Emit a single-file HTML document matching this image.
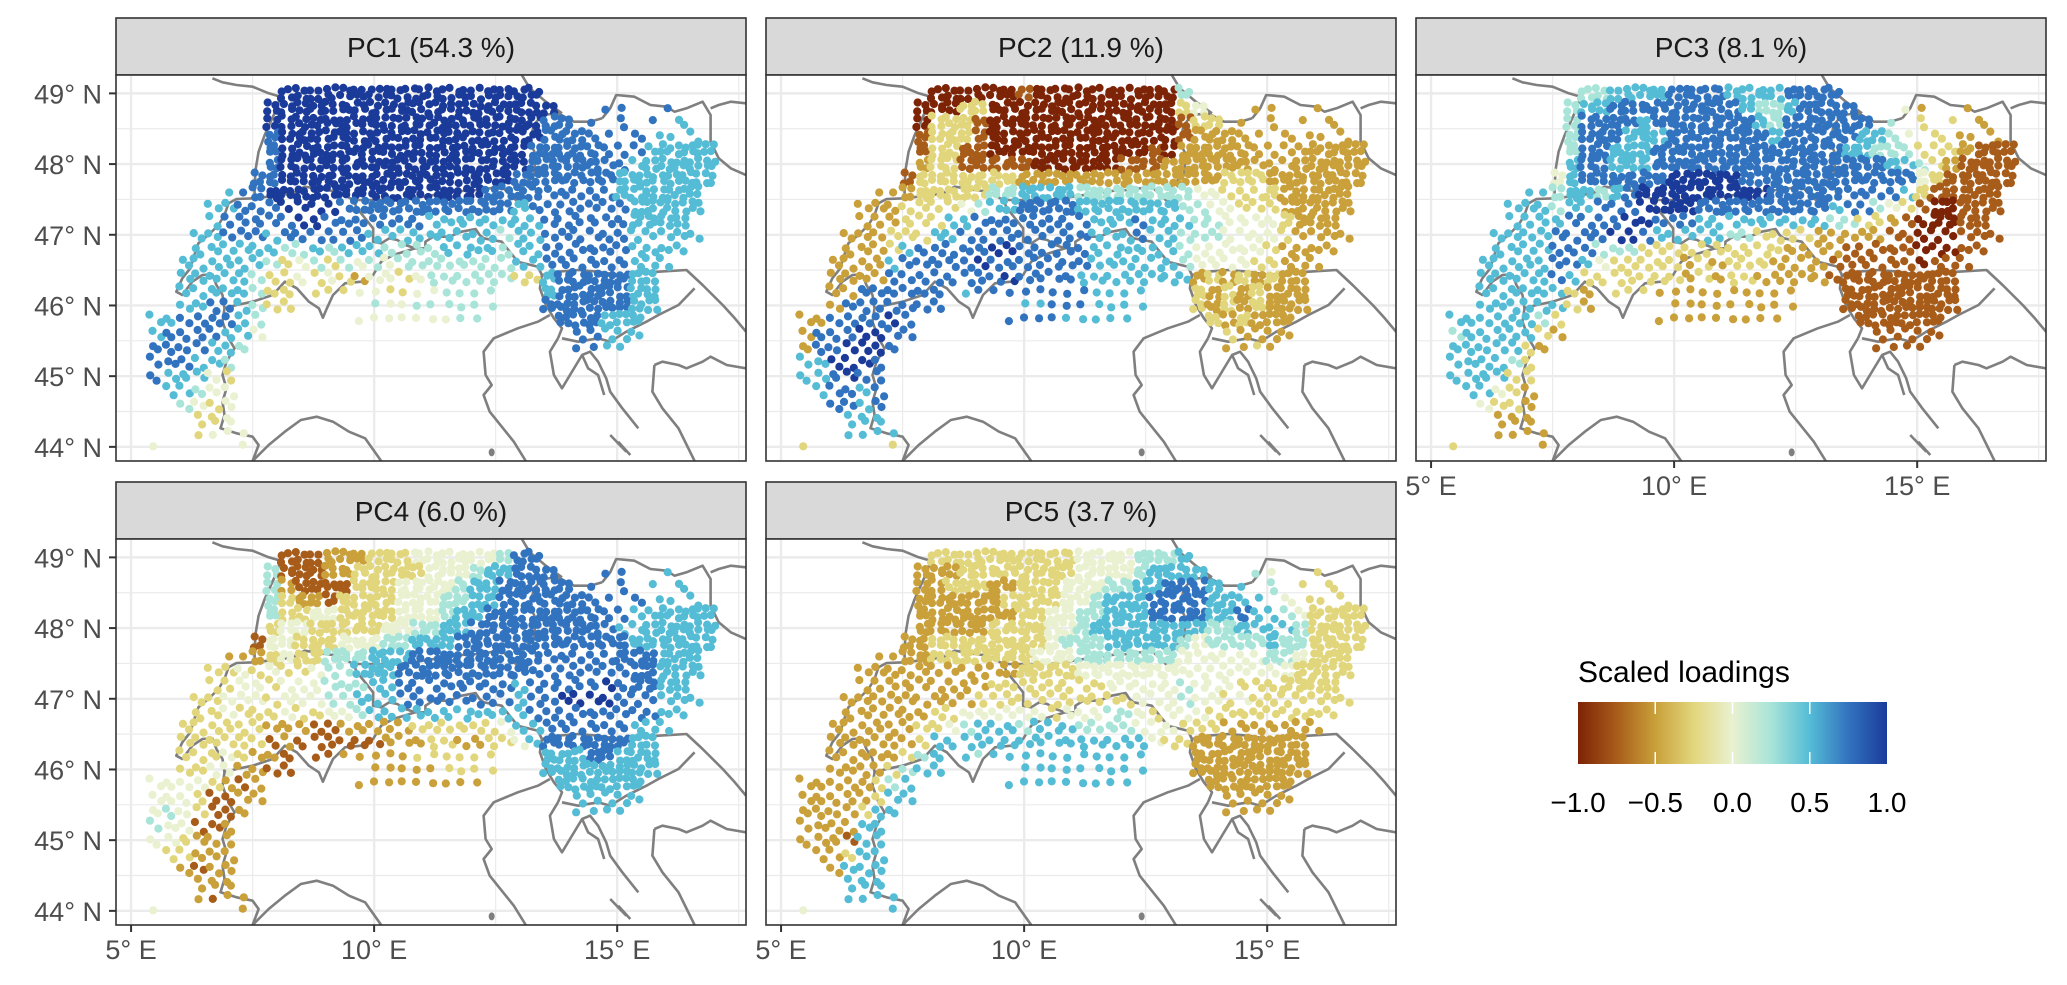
<!DOCTYPE html>
<html><head><meta charset="utf-8">
<style>
html,body{margin:0;padding:0;background:#fff;}
svg{display:block;font-family:"Liberation Sans",Arial,sans-serif;}
</style></head>
<body>
<svg id="chart" width="2067" height="985" viewBox="0 0 2067 985" xmlns="http://www.w3.org/2000/svg">
<defs>
<linearGradient id="cgrad" x1="0" x2="1" y1="0" y2="0">
<stop offset="0" stop-color="#7d2306"/><stop offset="0.125" stop-color="#a85c1a"/><stop offset="0.25" stop-color="#c9a03a"/><stop offset="0.375" stop-color="#e2d67c"/><stop offset="0.5" stop-color="#e9f1d0"/><stop offset="0.625" stop-color="#a8e4d8"/><stop offset="0.75" stop-color="#55bcd6"/><stop offset="0.875" stop-color="#3273bf"/><stop offset="1" stop-color="#1b3b9b"/>
</linearGradient>
<clipPath id="pclip"><rect x="0" y="0" width="630" height="386"/></clipPath>
</defs>
<g id="panels"></g>
<g id="legend">
<text x="1578" y="682" font-size="30" fill="#000">Scaled loadings</text>
<rect x="1578" y="702" width="309" height="62" fill="url(#cgrad)"/>
</g>
</svg>
<script>
// ---- data ----
const panelTitles = ["PC1 (54.3 %)","PC2 (11.9 %)","PC3 (8.1 %)","PC4 (6.0 %)","PC5 (3.7 %)"];
const lonTicks = [5,10,15];
const lonTickLabels = ["5° E","10° E","15° E"];
const latTicks = [44,45,46,47,48,49];
const latTickLabels = ["44° N","45° N","46° N","47° N","48° N","49° N"];
const legendValues = [-1,-0.5,0,0.5,1];
const legendLabels = ["\u22121.0","\u22120.5","0.0","0.5","1.0"];
// station grid: lon = 5.5 + 0.3*i, lat = 49.0 - 0.2*row
const gridLon0 = 5.5, gridLonStep = 0.3, gridLat0 = 49.0, gridLatStep = 0.2;
const stationMask = [
 [[9,26,'#']],
 [[8,27,'#'],[31,32,'.'],[35,35,'.']],
 [[8,28,'#'],[30,30,'.'],[32,32,':'],[34,34,'.'],[36,36,':']],
 [[8,29,'#'],[30,30,':'],[31,31,'.'],[33,33,':'],[35,35,':'],[37,37,':']],
 [[8,30,'#'],[31,34,':'],[35,38,'#']],
 [[8,30,'#'],[31,33,':'],[34,38,'#']],
 [[7,38,'#']],
 [[5,6,'.'],[7,26,'#'],[27,31,':'],[32,37,'#']],
 [[4,13,':'],[14,25,'#'],[26,32,':'],[33,37,'#']],
 [[4,32,':'],[33,36,'#']],
 [[3,37,':']],
 [[3,36,':']],
 [[2,35,':']],
 [[2,26,':'],[27,34,'#']],
 [[2,9,':'],[11,23,'.'],[27,34,'#']],
 [[2,9,':'],[15,23,'.'],[27,34,'#']],
 [[0,7,':'],[14,22,'.'],[28,33,'#']],
 [[0,7,':'],[29,33,':']],
 [[0,6,':'],[29,32,'.']],
 [[0,5,':']],
 [[0,5,':']],
 [[1,5,':']],
 [[2,5,':']],
 [[3,5,':']],
 [[3,6,'.']],
 [[0,0,'.'],[6,6,'.']]
];
// loadings: digit d -> (d-4)/4
const pc1 = [
"66666 66788 88888 88888 88888 88877 77777 76666","66666 66688 88888 88888 88888 88877 77777 76666",
"66666 66688 88888 88888 88888 88777 77777 66666","66666 66678 88888 88888 88888 88777 77777 66666",
"66666 66678 88888 88888 88888 87777 77776 66666","66666 66678 88888 88888 88888 87777 77766 66666",
"66666 66778 88888 88888 88888 77777 77666 66666","66666 67788 88888 88888 88877 77777 77666 66666",
"66666 67778 88877 77777 77777 67777 77766 66666","66666 77777 88777 77776 66666 66777 77766 66666",
"66666 77767 77777 66666 66665 66777 77766 66666","66666 66665 56566 65555 66665 66777 77766 66666",
"66666 66653 45354 54555 55555 66777 77766 66666","66666 66533 43432 44345 55555 33677 77766 66666",
"66666 66533 43334 43344 55555 33677 77766 66666","66667 76533 34444 54455 55555 53777 77766 66666",
"66777 76544 44444 44444 45555 55777 76666 66666","67777 66444 44444 44444 44444 44777 76666 66666",
"77776 65444 44444 44444 44444 44667 76666 66666","77766 54444","76664 34444","66654 44444",
"56543 44444","55433 44444","44334 44444","44444 44444"];
const pc2 = [
"11111 11000 00000 10000 00000 05511 11222 22222","11111 11100 03300 00000 00000 03412 22222 22222",
"11111 11103 33100 00000 00000 01331 22222 22222","11111 11113 33100 00000 00000 01222 22222 22222",
"11111 11113 31100 00000 00001 02222 22222 22222","11111 11123 31111 10000 00111 22222 22222 22222",
"11111 11133 33333 22222 22222 22223 33222 22222","22222 22233 33355 66665 55555 55443 33322 22222",
"22222 22333 34566 77776 66666 65544 33322 22222","22222 22333 66777 77777 66676 66554 44432 22222",
"22222 23336 67777 77777 66676 65554 44432 22222","22222 23677 77788 77777 66666 65444 44322 22222",
"22222 26777 77877 77777 66666 65444 43322 22222","22222 27777 77778 77776 66666 66232 32322 22222",
"22227 77777 36777 77777 66666 62323 23222 22222","22277 77777 77777 66777 66666 32323 23222 22222",
"22777 78777 77777 77766 66666 23232 32222 22222","27778 87777 77777 77777 66666 32323 22222 22222",
"27788 87777 77777 77777 66666 33232 23222 22222","66888 77777","66787 77777","46776 77777",
"66776 77777","66666 66666","66666 66666","33333 33333"];
const pc3 = [
"66666 66355 56666 77776 66677 77777 74444 44444","66666 66356 67777 77777 65567 77777 54232 22222",
"66666 66357 77767 77777 76577 77777 53333 32222","66666 66357 77666 77777 77677 77766 54333 22222",
"66666 66457 76667 77777 77777 77665 55333 21111","66666 66467 76667 77777 77777 77777 66532 11111",
"66666 66467 77777 88888 77777 77777 77431 11111","66666 66566 56788 88888 88777 77777 76311 11111",
"66666 66566 77788 88777 77777 76775 43100 11111","66666 66677 77887 77666 66666 65533 21000 11111",
"66666 66777 78876 66665 53333 22222 11000 11111","66666 66777 55533 33333 33322 22111 11000 11111",
"66666 66776 43333 32323 33222 21111 11011 11111","66666 66763 33333 32323 32222 21111 11111 11111",
"66666 66632 33332 22222 22222 21111 11111 11111","66666 66632 22222 22222 22222 21111 11111 11111",
"66666 65322 22222 22222 22222 21111 11111 11111","56666 63222 22222 22222 22222 22111 11111 11111",
"66666 32222 22222 22222 22222 32211 11111 11111","66665 32222","66663 32222","66643 22222",
"45433 22222","44322 22222","33322 22222","33333 22222"];
const pc4 = [
"22222 22111 11222 33344 44445 77777 77766 66666","22222 22151 11223 33334 44566 77777 77766 66666",
"22222 22152 11113 33444 45667 77777 77766 66666","22222 22153 22133 33444 55667 77777 77776 66666",
"22222 22153 34433 33444 56677 77777 77766 66666","22222 22134 43333 34455 66777 77777 77666 66666",
"22222 22144 33344 45566 67777 77777 77766 66666","22222 22234 33555 66677 77777 77777 77777 66666",
"33333 34343 34556 66777 77777 77777 77777 66666","33333 34434 44555 66777 77777 67777 78777 66666",
"33333 44434 44556 66777 77777 67788 88777 66666","33333 43334 33445 66666 66666 67777 77777 66666",
"33333 33322 21122 22233 33334 66777 77766 66666","33333 33312 11111 12223 32233 46777 77766 66666",
"33333 43221 11122 22233 33334 56666 77666 66666","33334 42211 11112 22222 33333 66666 66666 66666",
"44443 21222 22222 22222 22222 56666 66666 66666","44431 12222 22222 22222 22222 56666 66666 66666",
"45431 12222 22222 22222 22222 56666 66666 66666","54411 22222","44322 22222","43322 22222",
"43212 22222","33222 22222","32221 22222","44444 22222"];
const pc5 = [
"22222 22223 33333 33334 44455 56633 33333 33333","22222 22222 23333 33334 44456 66666 55433 33333",
"22222 22222 33322 33344 45566 77766 66533 33333","22222 22222 22223 33344 56667 77766 66543 33333",
"22222 22222 22222 33445 56667 77766 76654 33333","22222 22222 22233 33445 66666 66655 66665 33333",
"22222 22223 33333 33455 56666 65455 55655 33333","22222 22223 33333 34445 55555 54444 44554 33333",
"22222 22222 22222 33334 44444 44444 44443 33333","22222 22222 22233 33333 34444 45444 33333 33333",
"22222 22222 22333 33333 33344 45443 43333 33333","22222 22223 34444 44344 45543 44433 33333 33333",
"22222 22233 45666 56665 55544 43332 22222 22222","22222 22236 66666 66666 66664 33222 22222 22222",
"22222 22356 66566 66666 66666 32222 22222 22222","22222 23566 66666 66666 66666 22222 22222 22222",
"22222 35666 66666 66666 66666 22222 22222 22222","22222 36666 66666 66666 66666 22222 22222 22222",
"22223 66666 66666 66666 66666 22222 22222 22222","22226 66666","22216 66666","22236 66666",
"23266 66666","22666 66666","22666 66666","44444 66666"];
const loadings = [pc1,pc2,pc3,pc4,pc5];

// ---- geometry ----
const NS = "http://www.w3.org/2000/svg";
const PW = 630, PH = 386;
const panelPos = [[116,75],[766,75],[1416,75],[116,539],[766,539]];
const lonL = 4.69, lonR = 17.65, latT = 49.26, latB = 43.80;
function xScale(lon){ return (lon-lonL)/(lonR-lonL)*PW; }
function yScale(lat){ return (latT-lat)/(latT-latB)*PH; }
const cStops=[-1,-0.75,-0.5,-0.25,0,0.25,0.5,0.75,1];
const cCols=[[125,35,6],[168,92,26],[201,160,58],[226,214,124],[233,241,208],[168,228,216],[85,188,214],[50,115,191],[27,59,155]];
function colorScale(v){
  v=Math.max(-1,Math.min(1,v));
  let k=0; while(k<cStops.length-2 && v>cStops[k+1]) k++;
  const t=(v-cStops[k])/(cStops[k+1]-cStops[k]);
  const a=cCols[k], b=cCols[k+1];
  return 'rgb('+a.map((x,j)=>Math.round(x+(b[j]-x)*t)).join(',')+')';
}
function hash(a,b,c){ let h=(a*73856093)^(b*19349663)^(c*83492791); h=(h^(h>>>13))*1274126177; h=h^(h>>>16); return ((h>>>0)%1000)/1000; }
// outline coordinates (reference-frame units 1568x1158 over panel)
const outlines = [
[[240,10],[265,22],[300,30],[340,35],[380,55],[410,65],[400,100],[385,140],[370,180],[355,230],[348,280],[345,330],[345,370],[300,372],[280,385],[270,420],[255,450],[230,480],[205,505],[195,540],[185,580],[165,610],[150,650],[165,660],[190,620],[215,600],[240,598],[250,630],[265,660],[270,700],[265,740],[280,790],[295,820],[275,860],[265,900],[275,940],[265,980],[270,1020],[260,1060],[300,1075],[340,1085],[355,1110],[340,1158]],
[[345,370],[400,362],[440,355],[470,335],[520,345],[555,350],[590,375],[600,400],[620,430],[640,460],[640,500],[660,505],[680,490],[700,495],[720,510],[745,520],[770,520],[770,500],[790,485],[830,485],[860,470],[895,462],[905,480],[915,490],[960,500],[1000,560],[1050,575],[1060,600],[1055,640],[1070,690],[1090,730],[1110,760],[1100,790]],
[[270,700],[300,690],[340,680],[390,660],[420,620],[450,640],[480,680],[505,700],[515,728],[525,700],[540,660],[570,625],[610,620],[640,600],[660,560],[690,540],[745,520]],
[[590,375],[640,375],[700,375],[740,370],[780,362],[820,355],[860,348],[900,345],[960,335],[990,370],[1000,380],[1010,330],[1040,300],[1045,240],[1030,200],[1040,150],[1060,120],[1100,115],[1140,140],[1180,140],[1210,130]],
[[1010,0],[1030,40],[1070,80],[1110,115]],
[[1210,130],[1230,100],[1245,60],[1290,65],[1330,90],[1370,95],[1390,110],[1420,100],[1460,80],[1480,120],[1480,200],[1500,250],[1530,280],[1568,300]],
[[1480,100],[1500,90],[1530,80],[1568,85]],
[[1060,600],[1100,590],[1150,585],[1200,590],[1250,600],[1300,595],[1350,590],[1420,585],[1460,630],[1510,690],[1540,730],[1568,770]],
[[1110,790],[1150,800],[1200,790],[1230,800],[1270,770],[1320,740],[1350,720],[1400,690],[1440,640]],
[[1080,720],[1050,740],[1000,760],[940,790],[915,830],[920,900],[935,930],[915,960],[930,1010],[990,1100],[1020,1158]],
[[1100,790],[1080,830],[1090,900],[1110,940],[1130,900],[1160,840],[1180,830],[1200,860],[1220,910],[1230,950],[1260,1000],[1300,1060]],
[[1160,840],[1175,880],[1200,900],[1215,960]],
[[1340,870],[1360,860],[1400,870],[1420,880],[1460,860],[1480,845],[1520,870],[1568,880]],
[[1340,870],[1335,950],[1360,1000],[1400,1060],[1440,1158]],
[[340,1158],[380,1110],[420,1070],[460,1035],[500,1025],[540,1040],[580,1070],[620,1090],[660,1158]],
[[1230,1080],[1270,1130]],[[1250,1100],[1280,1140]]
];

function mk(tag, attrs, parent){
  const e=document.createElementNS(NS,tag);
  for(const k in attrs) e.setAttribute(k,attrs[k]);
  parent.appendChild(e); return e;
}
const root=document.getElementById('panels');

panelTitles.forEach((title,p)=>{
  const [px,py]=panelPos[p];
  const g=mk('g',{transform:'translate('+px+','+py+')'},root);
  
  
  const strip=mk('rect',{x:0,y:-57,width:PW,height:57,fill:'#d9d9d9',stroke:'#333',"stroke-width":1.6},g);
  
  
  const st=mk('text',{x:PW/2,y:-18,"text-anchor":'middle',"font-size":28,fill:'#1a1a1a'},g);
  st.textContent=title;
  
  
  mk('rect',{x:0,y:0,width:PW,height:PH,fill:'#fff'},g);
  const inner=mk('g',{"clip-path":'url(#pclip)'},g);
  [5,7.5,10,12.5,15,17.5].forEach(l=>{
    const gl=mk('line',{x1:xScale(l),x2:xScale(l),y1:0,y2:PH,stroke:'#ebebeb',"stroke-width":(l%5===0)?2.4:1.2},inner);
    
    
  });
  for(let l=44;l<=49.01;l+=0.5){
    const gl=mk('line',{x1:0,x2:PW,y1:yScale(l),y2:yScale(l),stroke:'#ebebeb',"stroke-width":(l%1===0)?2.4:1.2},inner);
    
    
  }
  const sx=PW/1568, sy=PH/1158;
  outlines.forEach(o=>{
    const pl=mk('polyline',{points:o.map(q=>(q[0]*sx).toFixed(1)+','+(q[1]*sy).toFixed(1)).join(' '),fill:'none',stroke:'#7f7f7f',"stroke-width":2.6,"stroke-linejoin":'round'},inner);
    
    
  });
  const cor=mk('ellipse',{cx:935*sx,cy:1132*sy,rx:3,ry:4,fill:'#7f7f7f'},inner);
  
  
  const vals=loadings[p];
  const dots=mk('g',{},inner);
  
  
  const cw=Math.abs(xScale(gridLon0+gridLonStep)-xScale(gridLon0));
  const chh=Math.abs(yScale(gridLat0)-yScale(gridLat0-gridLatStep));
  stationMask.forEach((segs,r)=>{
    const rowStr=(vals[r]||'').replace(/ /g,'');
    segs.forEach(([a,b,d])=>{
      for(let i=a;i<=b;i++){
        const ch=rowStr[i]!==undefined?rowStr[i]:'4';
        const v=(parseInt(ch,10)-4)/4;
        const cx=xScale(gridLon0+gridLonStep*i), cy=yScale(gridLat0-gridLatStep*r);
        let offs;
        if(d==='#') offs=[[-.25,-.25],[.25,-.25],[-.25,.25],[.25,.25]];
        else if(d===':') offs=[[-.25,-.2],[.25,.25]];
        else offs=[[0,0]];
        offs.forEach((o,k)=>{
          const jx=(hash(r,i,k)-0.5)*5, jy=(hash(i,r,k+7)-0.5)*5;
          const c=mk('circle',{cx:(cx+o[0]*cw+jx).toFixed(1),cy:(cy+o[1]*chh+jy).toFixed(1),r:4.1,fill:colorScale(v)},dots);
          
          
        });
      }
    });
  });
  const border=mk('rect',{x:0,y:0,width:PW,height:PH,fill:'none',stroke:'#333',"stroke-width":1.6},g);
  
  
  if(p===0||p===3){
    latTicks.forEach((l,k)=>{
      mk('line',{x1:-7,x2:0,y1:yScale(l),y2:yScale(l),stroke:'#333',"stroke-width":2},g);
      const t=mk('text',{x:-14,y:yScale(l)+10,"text-anchor":'end',"font-size":27,fill:'#4d4d4d'},g);
      t.textContent=latTickLabels[k];
      
      
    });
  }
  if(p>=2){
    lonTicks.forEach((l,k)=>{
      mk('line',{x1:xScale(l),x2:xScale(l),y1:PH,y2:PH+7,stroke:'#333',"stroke-width":2},g);
      const t=mk('text',{x:xScale(l),y:PH+34,"text-anchor":'middle',"font-size":27,fill:'#4d4d4d'},g);
      t.textContent=lonTickLabels[k];
      
      
    });
  }
});
const leg=document.getElementById('legend');
legendValues.forEach((v,k)=>{
  const x=1578+(v+1)/2*309;
  if(k>0 && k<legendValues.length-1){
    mk('line',{x1:x,x2:x,y1:702,y2:714,stroke:'#fff',"stroke-width":1.5},leg);
    mk('line',{x1:x,x2:x,y1:752,y2:764,stroke:'#fff',"stroke-width":1.5},leg);
  }
  const t=mk('text',{x:x,y:812,"text-anchor":'middle',"font-size":28,fill:'#000'},leg);
  t.textContent=legendLabels[k];
  
  
});
</script>
</body></html>
